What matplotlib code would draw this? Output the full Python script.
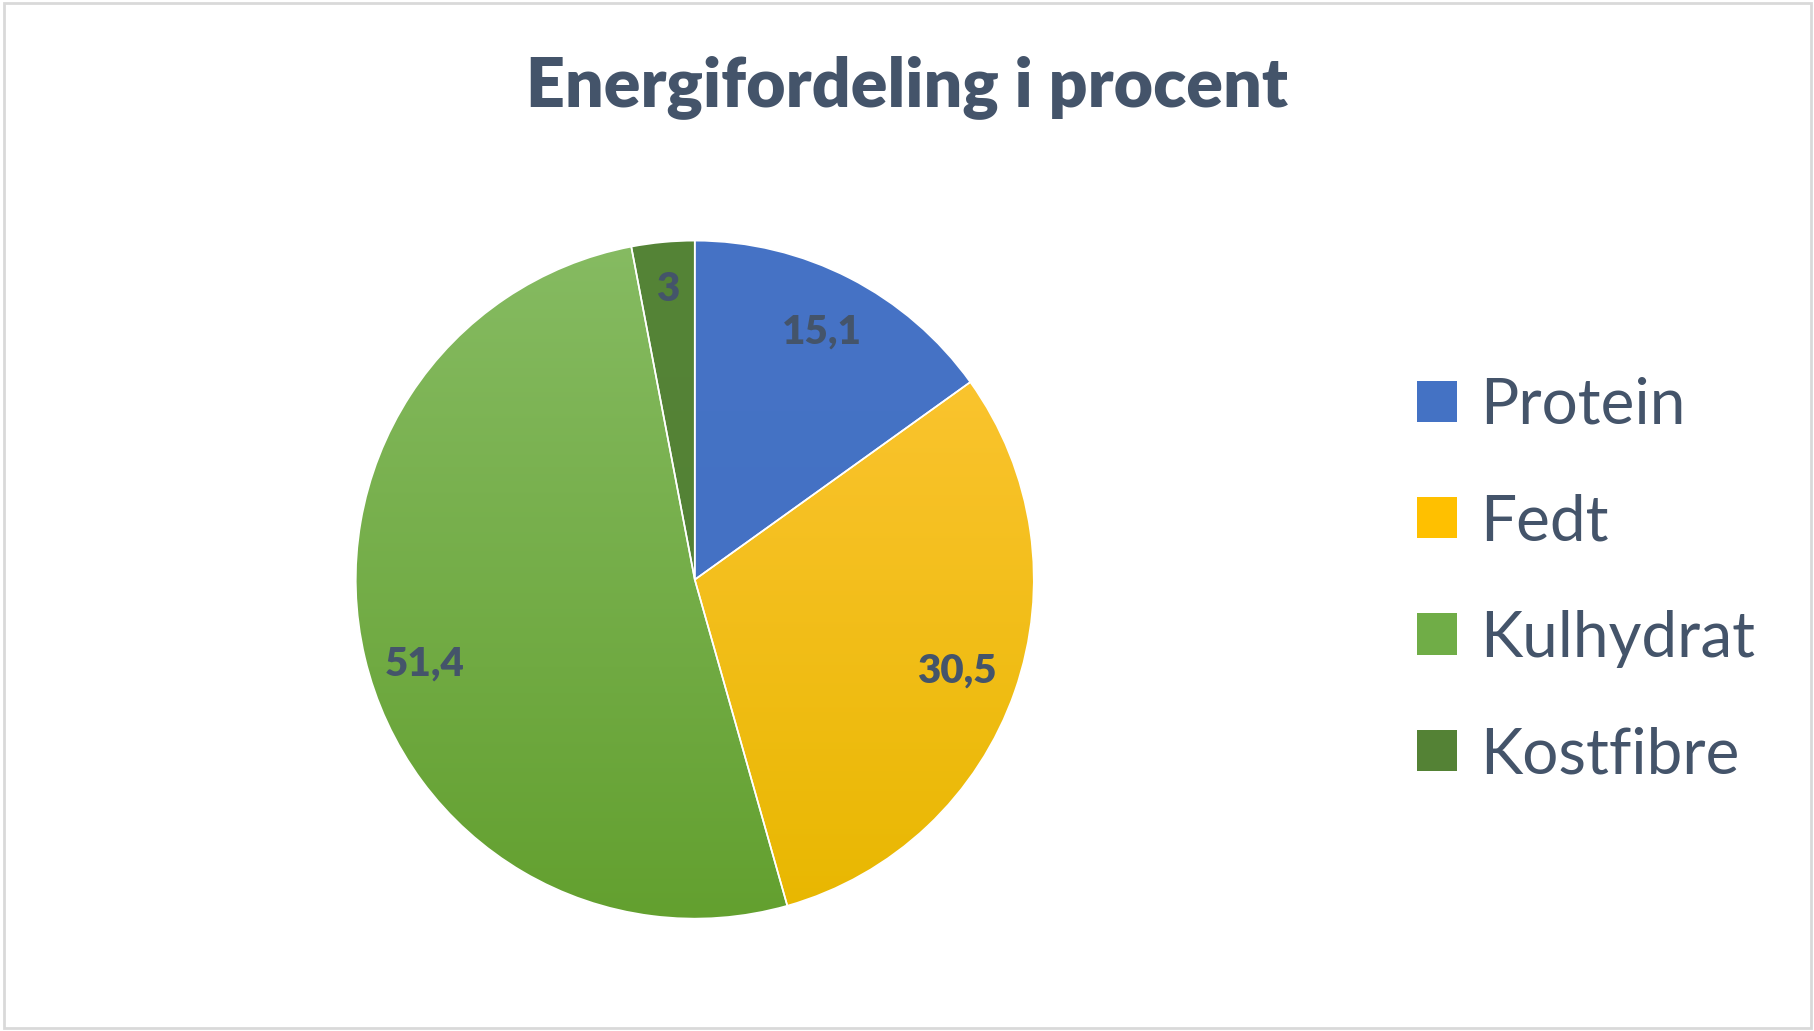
import numpy as np
import matplotlib.pyplot as plt
from matplotlib.colors import LinearSegmentedColormap
from matplotlib.patches import Rectangle

# Chart data
labels = ["Protein", "Fedt", "Kulhydrat", "Kostfibre"]
values = [15.1, 30.5, 51.4, 3]
value_text = ["15,1", "30,5", "51,4", "3"]

# (top colour, bottom colour) for the vertical gradient fill of each slice
top_colors = ["#4673C6", "#FFC73A", "#86BB62", "#558437"]
bottom_colors = ["#4270C2", "#E8B700", "#63A02F", "#527F33"]
base_colors = ["#4472C4", "#FFC000", "#70AD47", "#548235"]

text_color = "#44546A"

fig = plt.figure(figsize=(18.15, 10.31), dpi=100)
fig.patch.set_facecolor("white")

# light grey chart border
fig.patches.append(Rectangle((0.002, 0.003), 0.996, 0.994, transform=fig.transFigure,
                             fill=False, edgecolor="#D9D9D9", linewidth=2))

ax = fig.add_axes([0.196, 0.109, 0.3736, 0.6576])
wedges, _ = ax.pie(values, colors=base_colors, startangle=90, counterclock=False,
                   radius=1, wedgeprops=dict(edgecolor="white", linewidth=1.2))

# gradient overlays clipped to each wedge
grad = np.linspace(0, 1, 256).reshape(-1, 1)
for w, c_top, c_bot in zip(wedges, top_colors, bottom_colors):
    cmap = LinearSegmentedColormap.from_list("g", [c_top, c_bot])
    im = ax.imshow(grad, cmap=cmap, extent=[-1, 1, -1, 1], aspect="auto",
                   origin="upper", zorder=w.get_zorder() + 0.1)
    im.set_clip_path(w)
    # keep the white edge on top
    w.set_zorder(w.get_zorder() + 0.2)
    w.set_facecolor("none")

# data labels inside slices
for w, txt in zip(wedges, value_text):
    ang = np.deg2rad((w.theta1 + w.theta2) / 2)
    r = 0.82 if txt != "3" else 0.86
    x, y = r * np.cos(ang), r * np.sin(ang)
    if txt == "51,4":
        y -= 0.06
    ax.text(x, y, txt, ha="center", va="center",
            fontsize=29, fontweight="heavy", color=text_color, family="Lato", zorder=10)

ax.set_xlim(-1, 1)
ax.set_ylim(-1, 1)
ax.set_aspect("equal")
ax.axis("off")

fig.text(0.50, 0.916, "Energifordeling i procent", ha="center", va="center",
         fontsize=49, fontweight="heavy", color=text_color, family="Lato")

handles = [Rectangle((0, 0), 1, 1, facecolor=c) for c in base_colors]
leg = fig.legend(handles, labels, loc="center left", bbox_to_anchor=(0.749, 0.437),
                 frameon=False, handlelength=0.62, handleheight=0.62,
                 handletextpad=0.37, labelspacing=0.915,
                 prop=dict(family="Lato", size=46))
for t in leg.get_texts():
    t.set_color(text_color)

fig.savefig("out.png", dpi=100)
